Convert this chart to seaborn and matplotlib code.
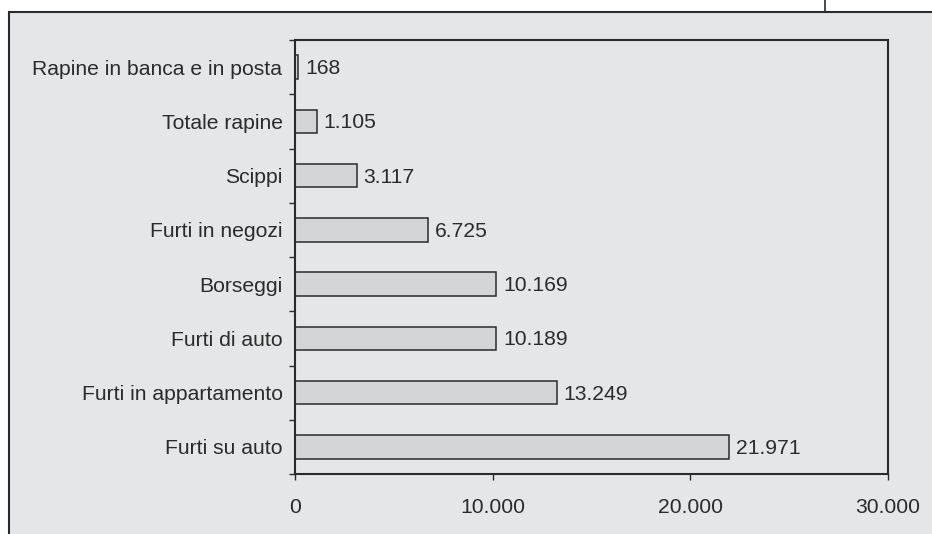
import seaborn as sns
import matplotlib.pyplot as plt
import pandas as pd
from matplotlib.patches import Rectangle
from matplotlib.lines import Line2D
from matplotlib.ticker import FuncFormatter

categories = ['Rapine in banca e in posta', 'Totale rapine', 'Scippi', 'Furti in negozi',
              'Borseggi', 'Furti di auto', 'Furti in appartamento', 'Furti su auto']
values = [168, 1105, 3117, 6725, 10169, 10189, 13249, 21971]
x_ticks = [0, 10000, 20000, 30000]

bg = '#e5e6e7'
ink = '#2b2b2b'
fs = 15.2

sns.set_style('white')
plt.rcParams['font.family'] = ['Liberation Sans', 'DejaVu Sans']

df = pd.DataFrame({'cat': categories, 'val': values})

fig = plt.figure(figsize=(9.32, 5.34), dpi=100)
fig.patch.set_facecolor('white')

# gray panel with frame on top and left
W, H = 932, 534
fig.patches.append(Rectangle((9 / W, -0.1), 1.2, 1 - 12 / H + 0.1, transform=fig.transFigure,
                             facecolor=bg, edgecolor=ink, linewidth=1.5, zorder=-5))
fig.lines.append(Line2D([825 / W, 825 / W], [1 - 12 / H, 1.0], transform=fig.transFigure,
                        color=ink, linewidth=1.2))

ax = fig.add_axes([295 / W, 60 / H, (888 - 295) / W, (474 - 40) / H])
ax.set_facecolor(bg)

sns.barplot(data=df, x='val', y='cat', orient='h', color='#d4d5d6', edgecolor=ink,
            linewidth=1.1, width=0.43, saturation=1, ax=ax)

ax.set_xlim(0, 30000)
ax.set_ylim(len(categories) - 0.5, -0.5)
ax.set_xticks(x_ticks)
ax.xaxis.set_major_formatter(FuncFormatter(lambda v, p: f'{int(v):,}'.replace(',', '.')))
ax.set_xlabel('')
ax.set_ylabel('')

ax.set_yticks([i - 0.5 for i in range(len(categories) + 1)], minor=True)
ax.tick_params(axis='y', which='major', length=0, pad=9, labelsize=fs, labelcolor=ink)
ax.tick_params(axis='y', which='minor', length=4.5, width=1, color=ink, direction='out', left=True)
ax.tick_params(axis='x', which='major', length=4.5, width=1, color=ink, direction='out',
               bottom=True, pad=13, labelsize=fs, labelcolor=ink)

for s in ax.spines.values():
    s.set_color(ink)
    s.set_linewidth(1.5)
    s.set_visible(True)

for i, v in enumerate(values):
    ax.annotate(f'{v:,}'.replace(',', '.'), (v, i), xytext=(5, -1), textcoords='offset points',
                va='center', ha='left', fontsize=fs, color=ink)

fig.savefig('out.png', dpi=100, facecolor='white')
